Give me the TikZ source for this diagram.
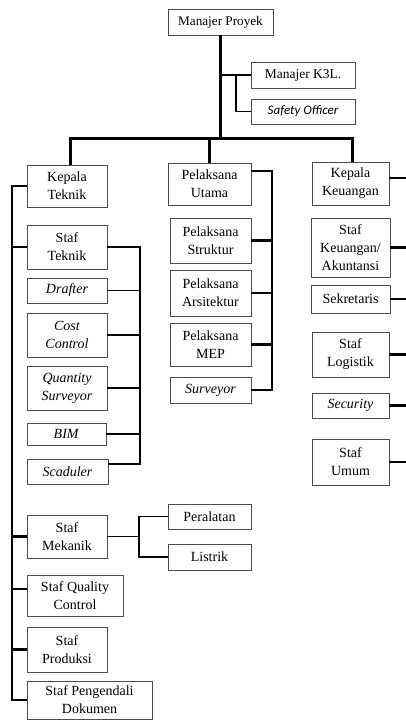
\documentclass[tikz,border=0pt]{standalone}
\usepackage{fontspec}
\setmainfont{Liberation Serif}
\newfontfamily\calibrifont{Carlito}
\begin{document}
\begin{tikzpicture}[x=1pt,y=-1pt,
  box/.style={draw=black!70,line width=0.8pt,fill=white,inner sep=0pt,align=center,
    font=\fontsize{14}{18}\selectfont},
  heavy/.style={line width=3pt},
  thickline/.style={line width=2.3pt},
  thinline/.style={line width=1.2pt}]
\useasboundingbox (0,0) rectangle (406,720);
% top
\node[box,minimum width=105pt,minimum height=26pt,font=\fontsize{13.2}{16}\selectfont] (mp) at (220.5,22) {Manajer Proyek};
\node[box,minimum width=104pt,minimum height=26pt,font=\fontsize{13.5}{16}\selectfont] (k3l) at (303,75) {Manajer K3L.};
\node[box,minimum width=104pt,minimum height=25pt,font=\calibrifont\itshape\fontsize{13}{15}\selectfont] (so) at (303,111.5) {Safety Officer};
% left column
\node[box,minimum width=80pt,minimum height=42pt] (kt) at (67,186) {Kepala\\Teknik};
\node[box,minimum width=80pt,minimum height=44pt] (st) at (67,247) {Staf\\Teknik};
\node[box,minimum width=80pt,minimum height=25pt] (dr) at (67,290.5) {\textit{Drafter}};
\node[box,minimum width=80pt,minimum height=44pt] (cc) at (67,335) {\textit{Cost}\\\textit{Control}};
\node[box,minimum width=80pt,minimum height=44pt] (qs) at (67,388) {\textit{Quantity}\\\textit{Surveyor}};
\node[box,minimum width=79pt,minimum height=22pt] (bim) at (66.5,434) {\textit{BIM}};
\node[box,minimum width=81pt,minimum height=25pt] (sch) at (67.5,471.5) {\textit{Scaduler}};
\node[box,minimum width=80pt,minimum height=43pt] (sm) at (67,536.5) {Staf\\Mekanik};
\node[box,minimum width=83pt,minimum height=25pt] (per) at (209.5,516.5) {Peralatan};
\node[box,minimum width=83pt,minimum height=26pt] (lis) at (209.5,557) {Listrik};
\node[box,minimum width=96pt,minimum height=41pt] (sqc) at (75,595.5) {Staf Quality\\Control};
\node[box,minimum width=80pt,minimum height=45pt] (spr) at (67,649.5) {Staf\\Produksi};
\node[box,minimum width=125pt,minimum height=38pt] (dok) at (89.5,700) {Staf Pengendali\\Dokumen};
% middle column
\node[box,minimum width=83pt,minimum height=42pt] (pu) at (209.5,184) {Pelaksana\\Utama};
\node[box,minimum width=81pt,minimum height=45pt] (ps) at (210.5,240.5) {Pelaksana\\Struktur};
\node[box,minimum width=81pt,minimum height=46pt] (pa) at (210.5,293) {Pelaksana\\Arsitektur};
\node[box,minimum width=81pt,minimum height=43pt] (pm) at (210.5,344.5) {Pelaksana\\MEP};
\node[box,minimum width=81pt,minimum height=26pt] (sv) at (210.5,390) {\textit{Surveyor}};
% right column
\node[box,minimum width=77pt,minimum height=43pt] (kk) at (350.5,183.5) {Kepala\\Keuangan};
\node[box,minimum width=79pt,minimum height=59pt] (sku) at (350.5,247.5) {Staf\\Keuangan/\\Akuntansi};
\node[box,minimum width=79pt,minimum height=28pt] (sek) at (350.5,299) {Sekretaris};
\node[box,minimum width=77pt,minimum height=45pt] (sl) at (350.5,354.5) {Staf\\Logistik};
\node[box,minimum width=77pt,minimum height=25pt] (sec) at (350.5,405.5) {\textit{Security}};
\node[box,minimum width=77pt,minimum height=46pt] (su) at (350.5,462) {Staf\\Umum};
% junction coordinates
\coordinate (barC) at (220.5,138);
\coordinate (barL) at (70,138);
\coordinate (barR) at (352,138);
\coordinate (soj) at (236,75);
\coordinate (spx) at (12,0);
\coordinate (sqcj) at (12,589);
\coordinate (tx) at (140,0);
\coordinate (schj) at (140,464);
\coordinate (mx) at (139,0);
\coordinate (pux) at (272,171);
\coordinate (edge) at (406,0);
\coordinate (kkj) at (406,178);
% connectors
\draw[heavy] (mp.south) -- (barC);
\draw[heavy] (barL |- kt.north) -- (barL) -- (barR) -- (barR |- kk.north);
\draw[heavy] (pu.north) -- (pu.north |- barC);
\draw[thickline] (k3l.west) -- (k3l.west -| mp.south);
\draw[thinline] (soj) |- (so.west);
% left spine
\draw[thickline] (kt.west) -- (kt.west -| spx) -- (dok.west -| spx) -- (dok.west);
\draw[thickline] (st.west) -- (st.west -| spx);
\draw[thickline] (sm.west) -- (sm.west -| spx);
\draw[thickline] (sqcj) -- (sqcj -| sqc.west);
\draw[thickline] (spr.west) -- (spr.west -| spx);
% teknik group
\draw[thinline] (st.east) -| (schj) -- (schj -| sch.east);
\draw[thinline] (dr.east) -- (dr.east -| tx);
\draw[thinline] (cc.east) -- (cc.east -| tx);
\draw[thinline] (qs.east) -- (qs.east -| tx);
\draw[thinline] (bim.east) -- (bim.east -| tx);
% mekanik group
\draw[thinline] (sm.east) -- (sm.east -| mx);
\draw[thinline] (per.west) -- (per.west -| mx) -- (lis.west -| mx) -- (lis.west);
% pelaksana group
\draw[thickline] (pux -| pu.east) -- (pux) |- (sv.east);
\draw[thickline] (ps.east) -- (ps.east -| pux);
\draw[thickline] (pa.east) -- (pa.east -| pux);
\draw[thickline] (pm.east) -- (pm.east -| pux);
% keuangan stubs
\draw[thickline] (kkj -| kk.east) -- (kkj);
\draw[thickline] (sku.east) -- (sku.east -| edge);
\draw[thickline] (sek.east) -- (sek.east -| edge);
\draw[thickline] (sl.east) -- (sl.east -| edge);
\draw[thickline] (sec.east) -- (sec.east -| edge);
\draw[thickline] (su.east) -- (su.east -| edge);
\end{tikzpicture}
\end{document}
